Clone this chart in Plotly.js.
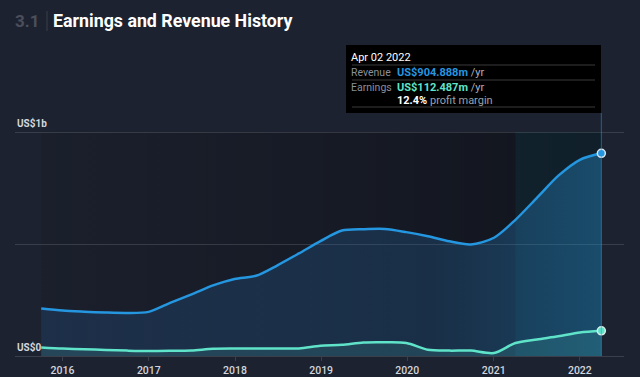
<!DOCTYPE html>
<html>
<head>
<meta charset="utf-8">
<script src="https://cdn.plot.ly/plotly-3.0.1.min.js"></script>
<style>
html,body{margin:0;padding:0;background:#1d2230;}
#chart{width:640px;height:377px;}
</style>
</head>
<body>
<div id="chart"></div>
<script>
// ---- data ----
const dates = ['2015-10-03','2016-01-02','2016-04-02','2016-07-02','2016-10-01','2016-12-31','2017-04-01','2017-07-01','2017-09-30','2017-12-30','2018-03-31','2018-06-30','2018-09-29','2018-12-29','2019-03-30','2019-06-29','2019-09-28','2019-12-28','2020-03-28','2020-06-27','2020-09-26','2021-01-02','2021-04-03','2021-07-03','2021-10-02','2022-01-01','2022-04-02'];
const revenue = [212,203,198,194,192,197,237,275,315,344,358,405,458,513,560,566,567,553,535,512,498,528,608,706,805,876,904.888];
const earnings = [38,33,30,27,24,22,23,25,32,33,33,34,34,46,50,60,61,58,28,24,24,13,58,74,88,105,112.487];
const yTickVals = [500, 1000];
const yLabels = [{v: 1000, t: 'US$1b'}, {v: 0, t: 'US$0'}];
const tooltipDate = 'Apr 02 2022';

// ---- layout helpers ----
const W = 640, H = 377, ML = 15, MR = 16, MT = 130, MB = 21;
const PW = W - ML - MR, PH = H - MT - MB;
const YTOP = PH / 0.224;
const px = x => (x - ML) / PW;
const py = y => (H - MB - y) / PH;

const n = dates.length;
const lastDate = dates[n - 1];
const lastRev = revenue[n - 1];
const lastEarn = earnings[n - 1];
const margin = (lastEarn / lastRev * 100).toFixed(1);
const fmt = v => 'US$' + v.toFixed(3) + 'm';

const REV = '#2596e0', EARN = '#5fe3c9';
const FONT = 'Roboto, "Open Sans", sans-serif';

const traces = [
  {x: dates, y: revenue, type: 'scatter', mode: 'lines', fill: 'tozeroy',
   fillcolor: 'rgba(40,120,190,0.22)',
   fillgradient: {type: 'horizontal', colorscale: [[0, 'rgba(40,110,185,0.20)'], [0.7, 'rgba(40,120,190,0.24)'], [1, 'rgba(40,150,215,0.38)']]},
   line: {color: REV, width: 2.5, shape: 'spline', smoothing: 0.8},
   hoverinfo: 'skip'},
  {x: dates, y: earnings, type: 'scatter', mode: 'lines', fill: 'tozeroy',
   fillcolor: 'rgba(95,227,201,0.13)', line: {color: EARN, width: 2.5, shape: 'spline', smoothing: 0.8},
   hoverinfo: 'skip'},
  {x: [lastDate], y: [lastRev], type: 'scatter', mode: 'markers',
   marker: {size: 8, color: REV, line: {color: '#d6e6f2', width: 1.5}}, hoverinfo: 'skip'},
  {x: [lastDate], y: [lastEarn], type: 'scatter', mode: 'markers',
   marker: {size: 8, color: EARN, line: {color: '#d6efe9', width: 1.5}}, hoverinfo: 'skip'}
];

const gradSvg = '<svg xmlns="http://www.w3.org/2000/svg" width="100" height="100" preserveAspectRatio="none">' +
  '<defs><linearGradient id="g" x1="0" y1="0" x2="1" y2="0">' +
  '<stop offset="0" stop-color="#000" stop-opacity="0.08"/>' +
  '<stop offset="0.5" stop-color="#000" stop-opacity="0.22"/>' +
  '<stop offset="1" stop-color="#000" stop-opacity="0.40"/>' +
  '</linearGradient></defs><rect width="100" height="100" fill="url(#g)"/></svg>';

const images = [{
  source: 'data:image/svg+xml;charset=utf-8,' + encodeURIComponent(gradSvg),
  xref: 'x', yref: 'y', x: dates[0], y: 1000,
  sizex: new Date(lastDate) - new Date(dates[0]), sizey: 1000,
  sizing: 'stretch', layer: 'below', xanchor: 'left', yanchor: 'top'
}];

const shapes = [
  // last 12 months highlight
  {type: 'rect', layer: 'below', xref: 'x', yref: 'y', x0: dates[n - 5], x1: lastDate, y0: 0, y1: 1000,
   fillcolor: 'rgba(15,120,150,0.20)', line: {width: 0}},
  // cursor line
  {type: 'line', xref: 'x', yref: 'paper', x0: lastDate, x1: lastDate, y0: 0, y1: py(113),
   line: {color: 'rgba(37,150,224,0.55)', width: 1}},
  // tooltip box
  {type: 'rect', xref: 'paper', yref: 'paper', x0: px(346), x1: px(601), y0: py(113), y1: py(45),
   fillcolor: '#000000', line: {width: 0}},
  {type: 'line', xref: 'paper', yref: 'paper', x0: px(352), x1: px(595), y0: py(65), y1: py(65), line: {color: '#3a3a3a', width: 1}},
  {type: 'line', xref: 'paper', yref: 'paper', x0: px(352), x1: px(595), y0: py(80), y1: py(80), line: {color: '#3a3a3a', width: 1}},
  {type: 'line', xref: 'paper', yref: 'paper', x0: px(352), x1: px(595), y0: py(107), y1: py(107), line: {color: '#3a3a3a', width: 1}},
  // title separator
  {type: 'line', xref: 'paper', yref: 'paper', x0: px(47), x1: px(47), y0: py(11), y1: py(31), line: {color: '#3a3f4b', width: 1}}
];

const ann = (x, y, text, color, size, extra) => Object.assign({
  xref: 'paper', yref: 'paper', x: px(x), y: py(y), text: text, showarrow: false,
  xanchor: 'left', yanchor: 'middle', font: {family: FONT, size: size, color: color}
}, extra || {});

const annotations = [
  ann(13, 21, '<b>3.1</b>', '#4a4f5b', 17),
  ann(349, 58, tooltipDate, '#ffffff', 11),
  ann(349, 72.5, 'Revenue', '#8a8f98', 10.5),
  ann(395, 72.5, '<b>' + fmt(lastRev) + '</b> <span style="color:#a9b3c4">/yr</span>', REV, 11),
  ann(349, 87.5, 'Earnings', '#8a8f98', 10.5),
  ann(395, 87.5, '<b>' + fmt(lastEarn) + '</b> <span style="color:#a9b3c4">/yr</span>', EARN, 11),
  ann(395, 101, '<b>' + margin + '%</b> <span style="color:#9aa0aa">profit margin</span>', '#ffffff', 11)
];
yLabels.forEach(l => annotations.push({
  xref: 'paper', yref: 'y', x: 0, y: l.v, yshift: 1, text: '<b>' + l.t + '</b>', showarrow: false,
  xanchor: 'left', yanchor: 'bottom', font: {family: FONT, size: 10, color: '#d4d7dc'}
}));

const layout = {
  width: W, height: H,
  margin: {l: ML, r: MR, t: MT, b: MB, pad: 0},
  paper_bgcolor: '#1d2230', plot_bgcolor: 'rgba(0,0,0,0)',
  showlegend: false,
  title: {text: '<b>Earnings and Revenue History</b>', xref: 'container', yref: 'container',
          x: 53 / W, xanchor: 'left', y: 1 - 21 / H, yanchor: 'middle',
          font: {family: FONT, size: 17.8, color: '#ffffff'}},
  xaxis: {type: 'date', range: ['2015-06-14', '2022-07-07'], dtick: 'M12', tick0: '2016-01-01',
          tickformat: '%Y', showgrid: false, zeroline: false, showline: true, linecolor: '#3a3f4b',
          ticks: 'outside', ticklen: 4, tickcolor: '#3a3f4b',
          tickfont: {family: FONT, size: 10.5, color: '#d2d5db', weight: 500}, fixedrange: true},
  yaxis: {range: [0, YTOP], tickvals: yTickVals, showticklabels: false, showgrid: true,
          gridcolor: 'rgba(255,255,255,0.13)', gridwidth: 1, zeroline: false, fixedrange: true},
  images: images,
  shapes: shapes,
  annotations: annotations
};

Plotly.newPlot('chart', traces, layout, {displayModeBar: false, staticPlot: true});
</script>
</body>
</html>
